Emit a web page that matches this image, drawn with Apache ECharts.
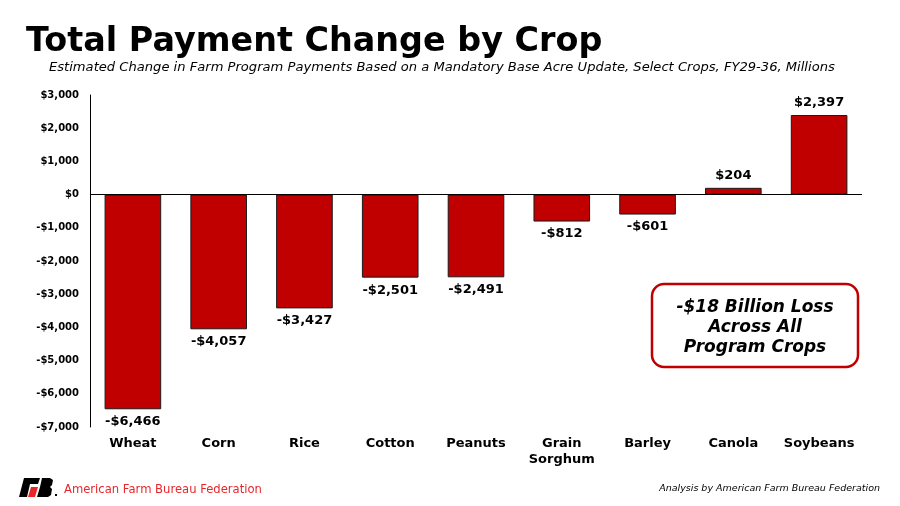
<!DOCTYPE html>
<html><head><meta charset="utf-8">
<script src="https://cdn.jsdelivr.net/npm/echarts@6/dist/echarts.min.js"></script>
<style>html,body{margin:0;padding:0;background:#fff}#c{width:900px;height:506px}</style>
</head><body><div id="c"></div>
<script>
const categories = ['Wheat','Corn','Rice','Cotton','Peanuts','Grain\nSorghum','Barley','Canola','Soybeans'];
const values = [-6466,-4057,-3427,-2501,-2491,-812,-601,204,2397];
const yTicks = {min:-7000, max:3000, interval:1000};
const titleText = 'Total Payment Change by Crop';
const subtitleText = 'Estimated Change in Farm Program Payments Based on a Mandatory Base Acre Update, Select Crops, FY29-36, Millions';
const calloutLines = ['-$18 Billion Loss','Across All','Program Crops'];
const sourceText = 'Analysis by American Farm Bureau Federation';
const orgText = 'American Farm Bureau Federation';

const F = 'DejaVu Sans, Verdana, sans-serif';
function money(v){ const s = '$' + Math.abs(v).toLocaleString('en-US'); return v < 0 ? '-' + s : s; }

const chart = echarts.init(document.getElementById('c'));
chart.setOption({
  animation:false,
  grid:{left:90, right:38, top:95, bottom:79, containLabel:false},
  xAxis:{type:'category', data:categories,
    axisLine:{show:false, onZero:false}, axisTick:{show:false},
    axisLabel:{fontFamily:F, fontWeight:'bold', fontSize:13, color:'#000', margin:9, lineHeight:16, interval:0}},
  yAxis:{type:'value', min:yTicks.min, max:yTicks.max, interval:yTicks.interval,
    axisLine:{show:true, lineStyle:{color:'#000', width:1}}, axisTick:{show:false}, splitLine:{show:false},
    axisLabel:{fontFamily:F, fontWeight:'bold', fontSize:10, color:'#000', margin:11, formatter:money}},
  series:[{type:'bar', barWidth:'66%',
    data: values.map(v => ({value:v, label:{position: v < 0 ? 'bottom' : 'top'}})),
    itemStyle:{color:'#C00000', borderColor:'#1a1a1a', borderWidth:1},
    label:{show:true, fontFamily:F, fontWeight:'bold', fontSize:13, color:'#000', distance:6, formatter:p => money(p.value)},
    markLine:{silent:true, symbol:'none', label:{show:false}, lineStyle:{color:'#000', width:1, type:'solid'},
      data:[{yAxis:0}]}
  }],
  graphic:[
    {type:'text', left:26, top:26, style:{text:titleText, font:'bold 33.4px '+F, fill:'#000'}},
    {type:'text', left:49, top:61, style:{text:subtitleText, font:'italic 13.1px '+F, fill:'#000'}},
    {type:'rect', shape:{x:652, y:284, width:206, height:83, r:12}, style:{fill:'#fff', stroke:'#C00000', lineWidth:2.5}},
    {type:'text', x:755, y:298, style:{text:calloutLines.join('\n'), font:'italic bold 17px '+F, fill:'#000', align:'center', lineHeight:20}},
    {type:'text', right:20, top:484, style:{text:sourceText, font:'italic 9.5px '+F, fill:'#000'}},
    {type:'polygon', shape:{points:[[24,478],[40,478],[38,484],[30,484],[27,497],[19,497]]}, style:{fill:'#000'}},
    {type:'polygon', shape:{points:[[31,487],[38,487],[35,497],[28,497]]}, style:{fill:'#e8262a'}},
    {type:'polygon', shape:{points:[[42,478],[50,478],[53,480],[52,485],[50,487],[52,489],[51,495],[48,497],[37,497],[40,487]]}, style:{fill:'#000'}},
    {type:'rect', shape:{x:55, y:494, width:2, height:2}, style:{fill:'#000'}},
    {type:'text', left:64, top:484, style:{text:orgText, font:'11.6px '+F, fill:'#e8262a'}}
  ]
});
</script></body></html>
